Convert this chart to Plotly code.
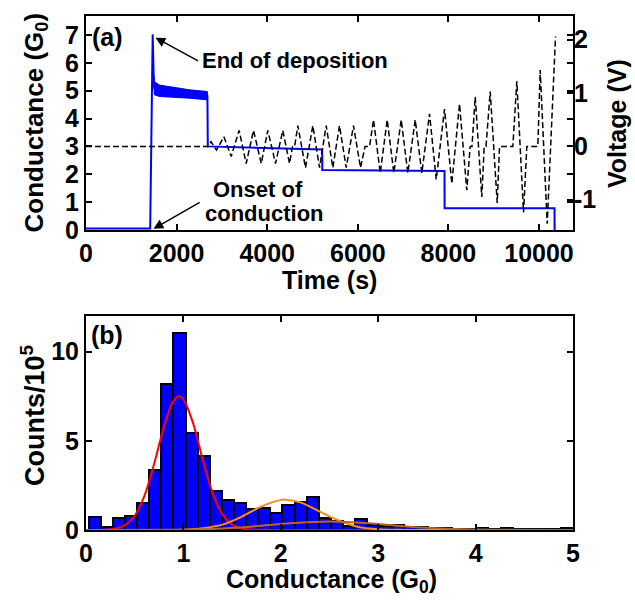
import plotly.graph_objects as go

# ---------------- Panel (a) data ----------------
# Conductance trace (G0) vs time (s)
cond_time = [0, 1417, 1472, 1480, 1495, 1512, 1623, 1917, 2285, 2680, 2689,
             3500, 4500, 5214, 5216, 6500, 7914, 7916, 10342, 10344]
cond_G = [0.05, 0.05, 7.02, 6.0, 5.4, 5.08, 5.0, 4.94, 4.88, 4.82, 3.0,
          2.97, 2.93, 2.89, 2.15, 2.13, 2.12, 0.78, 0.78, 0.0]

# Noise band of conductance after end of deposition
band_time = [1495, 1512, 1623, 1917, 2285, 2680]
band_upper = [5.6, 5.32, 5.2, 5.12, 5.03, 4.97]
band_lower = [5.2, 4.85, 4.79, 4.76, 4.73, 4.67]

# Applied voltage (V) vs time (s)
volt_time = [0, 2700, 2760, 2880, 3045, 3205, 3380, 3536, 3698, 3868, 4013, 4183,
             4344, 4492, 4560, 4605, 4676, 4845, 5007, 5155, 5302, 5448, 5596,
             5744, 5905, 6060, 6160, 6260, 6347, 6495, 6649, 6795, 6958, 7104,
             7267, 7413, 7583, 7731, 7914, 8075, 8245, 8406, 8480, 8520, 8592,
             8737, 8790, 8830, 8923, 9077, 9128, 9422, 9510, 9658, 9731, 9974,
             10026, 10181, 10364]
volt_V = [0, 0, 0.09, -0.07, 0.18, -0.19, 0.3, -0.32, 0.3, -0.32, 0.3, -0.32,
          0.3, -0.32, 0, 0, 0.39, -0.4, 0.39, -0.4, 0.39, -0.4, 0.39,
          -0.4, 0.39, -0.4, 0, 0, 0.5, -0.5, 0.5, -0.5, 0.5, -0.5,
          0.5, -0.5, 0.61, -0.62, 0.7, -0.7, 0.8, -0.82, 0, 0, 0.93,
          -0.95, 0, 0, 1.03, -1.06, 0, 0, 1.22, -1.24, 0, 0,
          1.43, -1.45, 2.06]

time_ticks = [0, 2000, 4000, 6000, 8000, 10000]
time_ticktext = ["0", "2000", "4000", "6000", "8000", "10000"]
cond_ticks = [0, 1, 2, 3, 4, 5, 6, 7]
volt_ticks = [-1, 0, 1, 2]
volt_ticktext = ["-1", "0", "1", "2"]

# ---------------- Panel (b) data ----------------
bin_start = 0.027
bin_width = 0.1244
counts = [0.75, 0.15, 0.65, 0.78, 1.5, 3.36, 8.19, 11.07, 5.46, 4.15,
          2.2, 1.7, 1.53, 1.16, 1.25, 0.97, 1.4, 1.59, 1.83, 0.7,
          0.5, 0.2, 0.62, 0.28, 0.2, 0.3, 0.19, 0.15, 0.13, 0.1,
          0.07, 0.07, 0.13, 0.07, 0.13, 0.05, 0.05, 0.03, 0.03, 0.1]
bin_centers = [bin_start + bin_width * (k + 0.5) for k in range(len(counts))]

# Fitted peaks
red_G = [0, 0.2, 0.3, 0.4, 0.5, 0.6, 0.7, 0.8, 0.9, 0.955, 1.0, 1.1, 1.2, 1.3,
         1.4, 1.5, 1.6, 1.8, 2.0, 5.0]
red_y = [0, 0.02, 0.07, 0.27, 0.8, 1.92, 3.71, 5.78, 7.26, 7.5, 7.33, 5.98, 3.92,
         2.07, 0.88, 0.3, 0.08, 0.01, 0, 0]
orange_G = [0, 1.0, 1.2, 1.4, 1.6, 1.8, 2.0, 2.05, 2.2, 2.4, 2.6, 2.8, 3.0, 3.2,
            3.5, 5.0]
orange_y = [0, 0.02, 0.1, 0.3, 0.75, 1.32, 1.69, 1.7, 1.55, 1.03, 0.52, 0.17,
            0.04, 0.01, 0, 0]
brown_G = [0, 0.8, 1.2, 1.5, 1.8, 2.1, 2.5, 2.9, 3.2, 3.5, 3.8, 4.2, 5.0]
brown_y = [0, 0.01, 0.04, 0.11, 0.24, 0.38, 0.47, 0.38, 0.24, 0.12, 0.05, 0.01, 0]

cond_hist_ticks = [0, 1, 2, 3, 4, 5]
count_ticks = [0, 5, 10]

# ---------------- Figure ----------------
fig = go.Figure()

fig.add_trace(go.Scatter(
    x=band_time + band_time[::-1], y=band_upper + band_lower[::-1],
    fill="toself", fillcolor="#0000FF", mode="lines",
    line=dict(color="#0000FF", width=1), xaxis="x", yaxis="y",
    showlegend=False, hoverinfo="skip"))
fig.add_trace(go.Scatter(
    x=cond_time, y=cond_G, mode="lines",
    line=dict(color="#0000FF", width=2), xaxis="x", yaxis="y",
    showlegend=False))
fig.add_trace(go.Scatter(
    x=volt_time, y=volt_V, mode="lines",
    line=dict(color="black", width=1.5, dash="6px,3px"), xaxis="x", yaxis="y2",
    showlegend=False))

fig.add_trace(go.Bar(
    x=bin_centers, y=counts, width=bin_width,
    marker=dict(color="#0000FF", line=dict(color="black", width=2)),
    xaxis="x2", yaxis="y3", showlegend=False))
fig.add_trace(go.Scatter(
    x=red_G, y=red_y, mode="lines", line=dict(color="#FF0000", width=2, shape="spline"),
    xaxis="x2", yaxis="y3", showlegend=False))
fig.add_trace(go.Scatter(
    x=orange_G, y=orange_y, mode="lines", line=dict(color="#FF8A2A", width=2, shape="spline"),
    xaxis="x2", yaxis="y3", showlegend=False))
fig.add_trace(go.Scatter(
    x=brown_G, y=brown_y, mode="lines", line=dict(color="#B8661E", width=2, shape="spline"),
    xaxis="x2", yaxis="y3", showlegend=False))

FONT = "Liberation Sans, Arial, sans-serif"
tick_font = dict(family=FONT, size=25, color="black", weight="bold")
axis_common = dict(showline=True, linewidth=2, linecolor="black", ticks="inside",
                   ticklen=6, tickwidth=2, tickcolor="black", showgrid=False,
                   zeroline=False, mirror="ticks", tickfont=tick_font)

fig.update_layout(
    width=635, height=603,
    margin=dict(l=86, r=62, t=16, b=73),
    paper_bgcolor="white", plot_bgcolor="white",
    font=dict(family=FONT, size=24, color="black", weight="bold"),
    bargap=0,
    xaxis=dict(domain=[0, 1], anchor="y", range=[0, 10750], tickvals=time_ticks,
               ticktext=time_ticktext, **axis_common),
    yaxis=dict(domain=[0.5837, 1], anchor="x", range=[0, 7.68], tickvals=cond_ticks,
               **axis_common),
    yaxis2=dict(overlaying="y", anchor="x", side="right", range=[-1.567, 2.445],
                tickvals=volt_ticks, ticktext=volt_ticktext, ticks="inside", ticklen=6,
                tickwidth=2, tickcolor="black", showline=False, showgrid=False,
                zeroline=False, tickfont=tick_font),
    xaxis2=dict(domain=[0, 1], anchor="y3", range=[0, 5], tickvals=cond_hist_ticks,
                **axis_common),
    yaxis3=dict(domain=[0, 0.4163], anchor="x2", range=[0, 12], tickvals=count_ticks,
                **axis_common),
)

title_font = dict(family=FONT, size=25, color="black", weight="bold")
ann_font = dict(family=FONT, size=22, color="black", weight="bold")


def paper_text(text, x, y, font, xanchor="center", angle=0):
    fig.add_annotation(text=text, xref="paper", yref="paper", x=x, y=y,
                       xanchor=xanchor, yanchor="middle", showarrow=False,
                       textangle=angle, font=font)


# axis titles
paper_text("Time (s)", 0.501, 0.487, title_font)
paper_text("Conductance (G<sub>0</sub>)", -0.1047, 0.7928,
           dict(title_font, size=26), angle=-90)
paper_text("Voltage (V)", 1.0903, 0.7918, title_font, angle=-90)
paper_text("Conductance (G<sub>0</sub>)", 0.505, -0.1, title_font)
paper_text("Counts/10<sup>5</sup>", -0.1088, 0.2218,
           dict(title_font, size=27), angle=-90)

# panel labels and notes
paper_text("(a)", 0.0441, 0.960, title_font)
paper_text("(b)", 0.0441, 0.3794, title_font)
paper_text("End of deposition", 0.2341, 0.9125, ann_font, xanchor="left")
paper_text("Onset of", 0.3538, 0.6634, ann_font)
paper_text("conduction", 0.3659, 0.6167, ann_font)

# arrows
fig.add_annotation(text="", x=1534, y=6.9, ax=2506, ay=6.04, xref="x", yref="y",
                   axref="x", ayref="y", showarrow=True, arrowhead=2, arrowsize=1.3,
                   arrowwidth=1.5, arrowcolor="black")
fig.add_annotation(text="", x=1490, y=0.04, ax=2543, ay=1.02, xref="x", yref="y",
                   axref="x", ayref="y", showarrow=True, arrowhead=2, arrowsize=1.3,
                   arrowwidth=1.5, arrowcolor="black")

fig.write_html("out.html", config={"displayModeBar": False},
               post_script="document.body.style.margin='0px';")
